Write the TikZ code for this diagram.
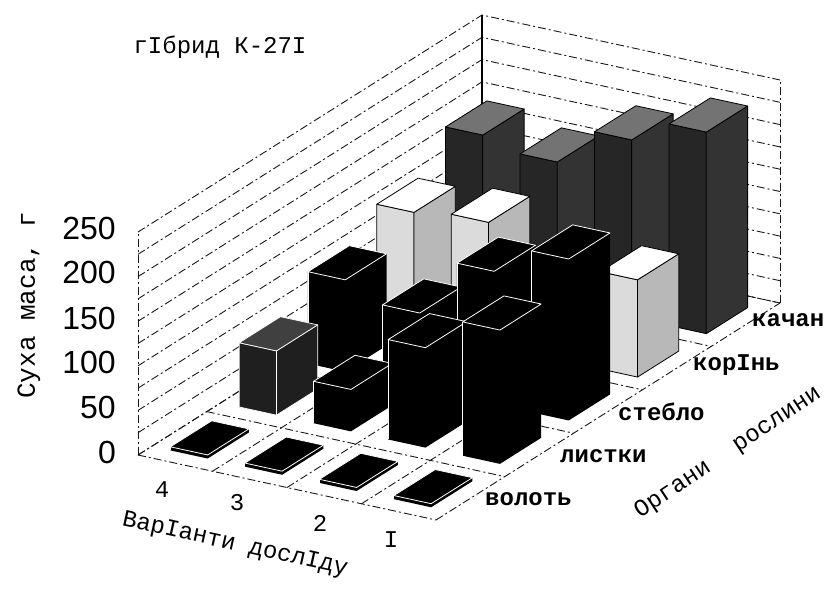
\documentclass[tikz,border=0pt]{standalone}
\usepackage{fontspec}
\newfontfamily\twfont{Liberation Mono}
\newfontfamily\snfont{Liberation Sans}
\tikzset{
  gridline/.style={line width=0.9pt, black!90, dash pattern=on 8pt off 3pt on 2pt off 3pt},
  cornerline/.style={line width=1.1pt, black},
  twtext/.style={font=\twfont\fontsize{24}{24}\selectfont, inner sep=0pt},
  orglabel/.style={font=\twfont\bfseries\fontsize{24}{24}\selectfont, inner sep=0pt, anchor=west},
  ticklabel/.style={font=\snfont\fontsize{32}{32}\selectfont, inner sep=0pt, anchor=east},
  blkfill/.style={fill=black},
  blkedge/.style={draw=white, line width=0.8pt, line join=round},
  lfront/.style={fill=black!88, draw=white, line width=0.7pt, line join=round},
  ltop/.style={fill=black!75, draw=white, line width=0.7pt, line join=round},
  kfront/.style={fill=black!14, draw=black, line width=0.8pt, line join=round},
  kside/.style={fill=black!28, draw=black, line width=0.8pt, line join=round},
  ktop/.style={fill=white, draw=black, line width=0.8pt, line join=round},
  qfront/.style={fill=black!85, draw=black, line width=0.8pt, line join=round},
  qside/.style={fill=black!80, draw=black, line width=0.8pt, line join=round},
  qtop/.style={fill=black!55, draw=black, line width=0.8pt, line join=round},
}
\newcommand\drawbar[6]{%
  \pgfmathsetmacro\bxa{#1+0.25}\pgfmathsetmacro\bxb{#1+0.75}%
  \pgfmathsetmacro\bya{#2+0.2}\pgfmathsetmacro\byb{#2+0.8}%
  \filldraw[#4] (\bxa,\bya,0) -- (\bxb,\bya,0) -- (\bxb,\bya,#3) -- (\bxa,\bya,#3) -- cycle;
  \filldraw[#5] (\bxb,\bya,0) -- (\bxb,\byb,0) -- (\bxb,\byb,#3) -- (\bxb,\bya,#3) -- cycle;
  \filldraw[#6] (\bxa,\bya,#3) -- (\bxb,\bya,#3) -- (\bxb,\byb,#3) -- (\bxa,\byb,#3) -- cycle;
}
\newcommand\drawblk[3]{%
  \pgfmathsetmacro\bxa{#1+0.25}\pgfmathsetmacro\bxb{#1+0.75}%
  \pgfmathsetmacro\bya{#2+0.2}\pgfmathsetmacro\byb{#2+0.8}%
  \fill[blkfill] (\bxa,\bya,0) -- (\bxb,\bya,0) -- (\bxb,\byb,0) -- (\bxb,\byb,#3) -- (\bxa,\byb,#3) -- (\bxa,\bya,#3) -- cycle;
  \draw[blkedge] (\bxa,\bya,#3) -- (\bxb,\bya,#3) -- (\bxb,\byb,#3) -- (\bxa,\byb,#3) -- cycle;
  \draw[blkedge] (\bxa,\bya,0) -- (\bxa,\bya,#3);
}
\begin{document}
\begin{tikzpicture}[x=1pt,y=-1pt]
\useasboundingbox (0,0) rectangle (830,590);
\fill[white] (0,0) rectangle (830,590);
\begin{scope}[shift={(138,455)}, x={(74.5pt,-16.25pt)}, y={(68.8pt,43.4pt)}, z={(0pt,0.892pt)}]
  % walls
  \foreach \v in {0,25,...,250} { \draw[gridline] (0,0,\v) -- (0,5,\v) -- (4,5,\v); }
  \draw[gridline] (0,0,0) -- (0,0,250);
  \draw[gridline] (4,5,0) -- (4,5,250);
  \draw[cornerline] (0,5,0) -- (0,5,250);
  % floor
  \foreach \d in {0,...,5} { \draw[gridline] (0,\d,0) -- (4,\d,0); }
  \foreach \c in {0,...,4} { \draw[gridline] (\c,0,0) -- (\c,5,0); }
  % bars: back row first
  \drawbar{0}{4}{168}{qfront}{qside}{qtop}
  \drawbar{1}{4}{156}{qfront}{qside}{qtop}
  \drawbar{2}{4}{199}{qfront}{qside}{qtop}
  \drawbar{3}{4}{226}{qfront}{qside}{qtop}
  \drawbar{0}{3}{130}{kfront}{kside}{ktop}
  \drawbar{1}{3}{137}{kfront}{kside}{ktop}
  \drawbar{2}{3}{80}{kfront}{kside}{ktop}
  \drawbar{3}{3}{109}{kfront}{kside}{ktop}
  \drawblk{0}{2}{103}
  \drawblk{1}{2}{84}
  \drawblk{2}{2}{149}
  \drawblk{3}{2}{181}
  \drawbar{0}{1}{72}{lfront}{lfront}{ltop}
  \drawblk{1}{1}{47}
  \drawblk{2}{1}{112}
  \drawblk{3}{1}{150}
  \drawblk{0}{0}{4}
  \drawblk{1}{0}{4}
  \drawblk{2}{0}{4}
  \drawblk{3}{0}{4}
\end{scope}
% texts
\node[twtext] (title) at (220,47) {гІбрид К-27І};
\node[twtext, rotate=90, font=\twfont\fontsize{26}{26}\selectfont] (ylab) at (29,305) {Суха маса, г};
\node[ticklabel] (t250) at (116,228) {250};
\node[ticklabel] (t200) at (116,272) {200};
\node[ticklabel] (t150) at (116,318) {150};
\node[ticklabel] (t100) at (116,362) {100};
\node[ticklabel] (t50) at (116,407) {50};
\node[ticklabel] (t0) at (116,452) {0};
\node[twtext] (v4) at (162,490) {4};
\node[twtext] (v3) at (237,503) {3};
\node[twtext] (v2) at (320,523) {2};
\node[twtext] (v1) at (391,540) {I};
\node[twtext, rotate=-12.5] (xlab) at (235,545) {ВарІанти дослІду};
\node[orglabel] (o0) at (485,499) {волоть};
\node[orglabel] (o1) at (560,456) {листки};
\node[orglabel] (o2) at (618,412) {стебло};
\node[orglabel] (o3) at (693,365) {корІнь};
\node[orglabel] (o4) at (752,320) {качан};
\node[twtext, rotate=33.5] (ylab2a) at (673,490) {Органи};
\node[twtext, rotate=33.5] (ylab2b) at (778,421) {рослини};
\end{tikzpicture}
\end{document}
